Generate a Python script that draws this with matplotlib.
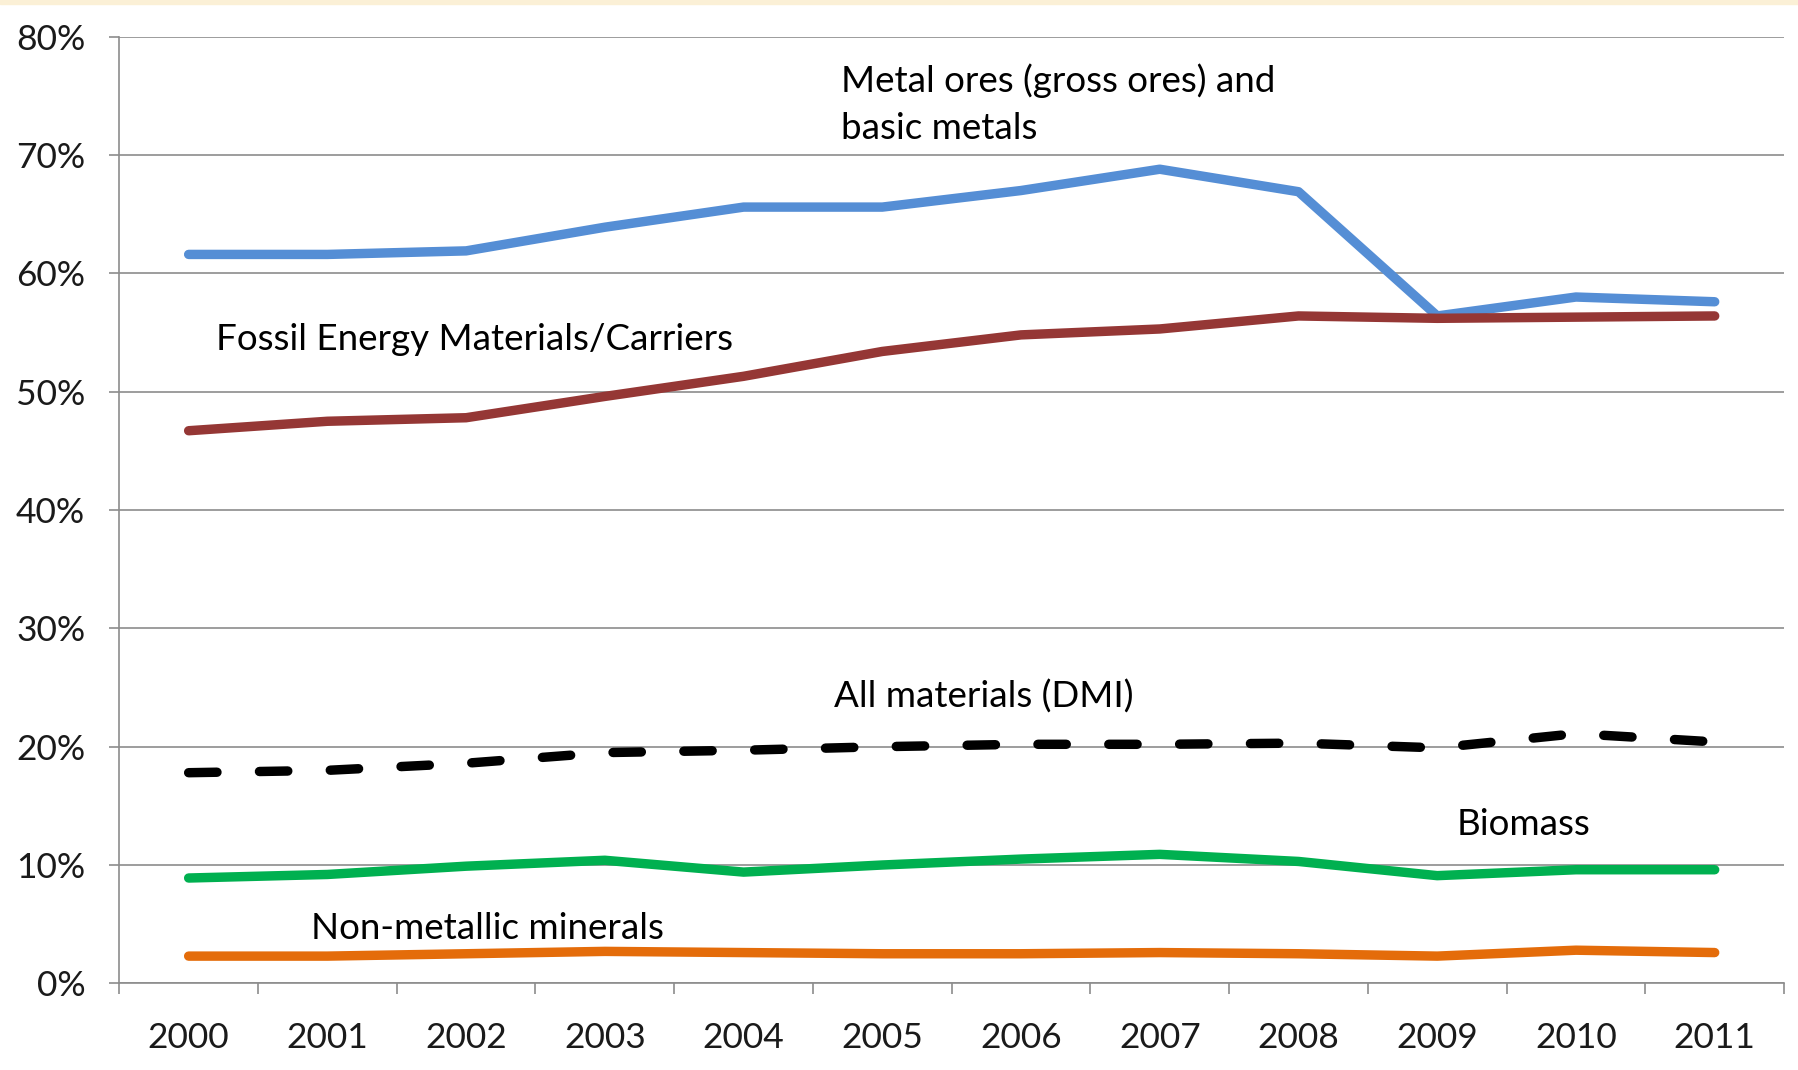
import numpy as np
import matplotlib.pyplot as plt
from matplotlib.patches import Rectangle

plt.rcParams['font.family'] = ['Lato', 'DejaVu Sans']

years = ['2000', '2001', '2002', '2003', '2004', '2005',
         '2006', '2007', '2008', '2009', '2010', '2011']
metal_ores = [61.6, 61.6, 61.9, 63.9, 65.6, 65.6, 67.0, 68.8, 66.9, 56.4, 58.0, 57.6]
fossil = [46.7, 47.5, 47.8, 49.6, 51.3, 53.4, 54.8, 55.3, 56.4, 56.2, 56.3, 56.4]
all_dmi = [17.8, 18.0, 18.6, 19.5, 19.7, 20.0, 20.2, 20.2, 20.3, 19.9, 21.1, 20.4]
biomass = [8.9, 9.2, 9.9, 10.4, 9.4, 10.0, 10.5, 10.9, 10.3, 9.1, 9.6, 9.6]
non_metallic = [2.3, 2.3, 2.5, 2.7, 2.6, 2.5, 2.5, 2.6, 2.5, 2.3, 2.8, 2.6]
y_ticks = [0, 10, 20, 30, 40, 50, 60, 70, 80]

fig = plt.figure(figsize=(17.99, 10.70), dpi=100)
# thin yellowish strip along the top edge
fig.patches.append(Rectangle((0, 0.996), 1, 0.004, transform=fig.transFigure,
                             color='#fbf0d6', zorder=0))
ax = fig.add_axes([0.0663, 0.081, 0.9254, 0.8847])

x = np.arange(len(years))
lw = 6.8
solid = dict(lw=lw, solid_capstyle='round', solid_joinstyle='round')
ax.plot(x, metal_ores, color='#558ed5', **solid)
ax.plot(x, fossil, color='#953735', **solid)
ax.plot(x, all_dmi, color='black', lw=lw, linestyle=(0, (3.0, 4.5)),
        dash_capstyle='round', dash_joinstyle='round')
ax.plot(x, biomass, color='#00b050', **solid)
ax.plot(x, non_metallic, color='#e46c0a', **solid)

fs = 26.5
ax.text(4.70, 74.3, 'Metal ores (gross ores) and\nbasic metals', fontsize=fs,
        va='center', ha='left', linespacing=1.55)
ax.text(0.195, 54.4, 'Fossil Energy Materials/Carriers', fontsize=fs, va='center')
ax.text(4.65, 24.2, 'All materials (DMI)', fontsize=fs, va='center')
ax.text(9.14, 13.4, 'Biomass', fontsize=fs, va='center')
ax.text(0.88, 4.66, 'Non-metallic minerals', fontsize=fs, va='center')

ax.set_xlim(-0.5, len(years) - 0.5)
ax.set_ylim(0, 80)
ax.set_yticks(y_ticks)
ax.set_yticklabels([f'{v}%' for v in y_ticks])
ax.set_xticks(x)
ax.set_xticklabels(years)
ax.set_xticks(np.arange(-0.5, len(years)), minor=True)

grid_c = '#8c8c8c'
ax.grid(axis='y', color=grid_c, lw=1.2)
ax.set_axisbelow(True)
for s in ['top', 'right']:
    ax.spines[s].set_visible(False)
for s in ['left', 'bottom']:
    ax.spines[s].set_color(grid_c)
    ax.spines[s].set_linewidth(1.2)

ax.tick_params(axis='y', length=7.5, width=1.2, color=grid_c, pad=17,
               labelsize=25.5, labelcolor='#1a1a1a')
ax.tick_params(axis='x', which='major', length=0, pad=28, labelsize=25.5,
               labelcolor='#1a1a1a')
ax.tick_params(axis='x', which='minor', length=8, width=1.2, color=grid_c)

fig.savefig('out.png', dpi=100)
